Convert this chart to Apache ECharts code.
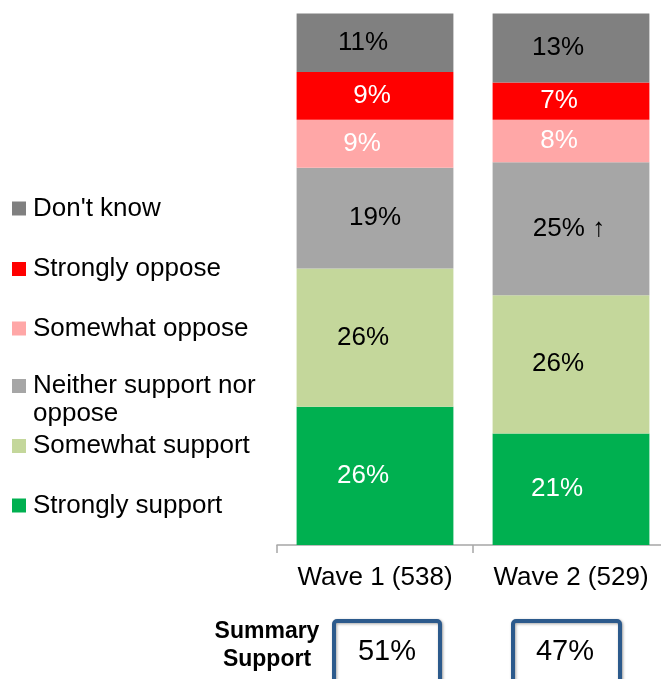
<!DOCTYPE html>
<html>
<head>
<meta charset="utf-8">
<script src="https://cdn.jsdelivr.net/npm/echarts@6/dist/echarts.min.js"></script>
<style>
  html, body { margin: 0; padding: 0; background: #fff; overflow: hidden; }
  /* the plot area runs slightly past the right edge of the page */
  #chart { width: 669px; height: 679px; }
</style>
</head>
<body>
<div id="chart"></div>
<script>
// Survey waves and their sample sizes
const categories = ['Wave 1 (538)', 'Wave 2 (529)'];

// Response shares (%), bottom of the stack first
const stronglySupport = [26, 21];
const somewhatSupport = [26, 26];
const neitherSupportNorOppose = [19, 25];
const somewhatOppose = [9, 8];
const stronglyOppose = [9, 7];
const dontKnow = [11, 13];

// Significant change markers for the neutral segment
const neitherChange = ['', '↑'];

// Net support (strongly + somewhat, as reported)
const summarySupport = [51, 47];

const FONT = "'Liberation Sans', Arial, sans-serif";

const seriesDefs = [
  { name: 'Strongly support', data: stronglySupport, color: '#00B050', text: '#fff', dx: [-12, -14] },
  { name: 'Somewhat support', data: somewhatSupport, color: '#C4D79B', text: '#000', dx: [-12, -13] },
  { name: 'Neither support nor oppose', data: neitherSupportNorOppose, color: '#A6A6A6', text: '#000', dx: [0, -2], flags: neitherChange },
  { name: 'Somewhat oppose', data: somewhatOppose, color: '#FFA7A7', text: '#fff', dx: [-13, -12] },
  { name: 'Strongly oppose', data: stronglyOppose, color: '#FF0000', text: '#fff', dx: [-3, -12] },
  { name: "Don't know", data: dontKnow, color: '#808080', text: '#000', dx: [-12, -13] }
];

const series = seriesDefs.map(def => ({
  name: def.name,
  type: 'bar',
  stack: 'total',
  barCategoryGap: '20%',
  itemStyle: { color: def.color },
  emphasis: { disabled: true },
  data: def.data.map((v, i) => ({
    value: v,
    label: {
      show: true,
      position: 'inside',
      offset: [def.dx[i], 0],
      color: def.text,
      fontFamily: FONT,
      fontSize: 26,
      formatter: () => v + '%' + (def.flags && def.flags[i] ? ' ' + def.flags[i] : '')
    }
  }))
}));

// One legend block per entry, listed top to bottom.
// The wrapped entry gets a leading blank line so its first line sits on the swatch.
const legendRows = [
  { name: "Don't know", top: 194.5 },
  { name: 'Strongly oppose', top: 255 },
  { name: 'Somewhat oppose', top: 314.5 },
  { name: 'Neither support nor oppose', top: 344, wrap: '\nNeither support nor\noppose' },
  { name: 'Somewhat support', top: 432 },
  { name: 'Strongly support', top: 491.5 }
];

const legends = legendRows.map(row => ({
  data: [row.name],
  left: 12,
  top: row.top,
  orient: 'vertical',
  padding: 0,
  itemWidth: 14,
  itemHeight: 14,
  icon: 'rect',
  selectedMode: false,
  formatter: row.wrap ? () => row.wrap : undefined,
  textStyle: {
    fontFamily: FONT,
    fontSize: 26,
    color: '#000',
    lineHeight: 28,
    padding: [0, 0, 0, 2]
  }
}));

// Summary boxes under the axis
const boxes = [
  { x: 334, w: 106, tx: 387 },
  { x: 513, w: 107, tx: 565 }
];
const graphic = [
  {
    type: 'text',
    x: 267, y: 618,
    style: {
      text: 'Summary\nSupport',
      font: "bold 23px 'Liberation Sans', Arial, sans-serif",
      fill: '#000',
      align: 'center',
      verticalAlign: 'top',
      lineHeight: 28
    }
  }
];
boxes.forEach((b, i) => {
  graphic.push({
    type: 'rect',
    shape: { x: b.x, y: 621, width: b.w, height: 90, r: 3 },
    style: {
      fill: '#fff',
      stroke: '#2C5A8C',
      lineWidth: 4,
      shadowBlur: 3,
      shadowColor: 'rgba(0,0,0,0.35)',
      shadowOffsetX: 1,
      shadowOffsetY: 1
    },
    z: 10
  });
  graphic.push({
    type: 'text',
    x: b.tx, y: 652,
    style: {
      text: summarySupport[i] + '%',
      font: "29px 'Liberation Sans', Arial, sans-serif",
      fill: '#000',
      align: 'center',
      verticalAlign: 'middle'
    },
    z: 11
  });
});

const chart = echarts.init(document.getElementById('chart'), null, { renderer: 'canvas' });
chart.setOption({
  animation: false,
  backgroundColor: '#fff',
  legend: legends,
  grid: { left: 277, top: 13.5, right: 0, height: 531.5 },
  xAxis: {
    type: 'category',
    data: categories,
    axisLine: { lineStyle: { color: '#A6A6A6', width: 1.5 } },
    axisTick: { show: true, length: 8, lineStyle: { color: '#A6A6A6', width: 1.5 } },
    axisLabel: { fontFamily: FONT, fontSize: 26, color: '#000', margin: 20, interval: 0, hideOverlap: false }
  },
  yAxis: {
    type: 'value',
    min: 0,
    max: 100,
    show: false
  },
  series: series,
  graphic: graphic
});
</script>
</body>
</html>
